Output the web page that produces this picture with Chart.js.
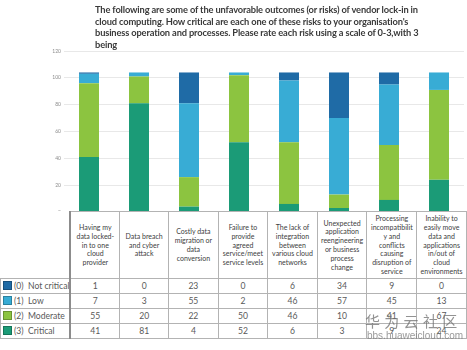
<!DOCTYPE html>
<html>
<head>
<meta charset="utf-8">
<script src="https://cdn.jsdelivr.net/npm/chart.js@4.4.1/dist/chart.umd.min.js"></script>
<style>
  html, body { margin: 0; padding: 0; background: #fff; }
  #wrap { position: relative; width: 467px; height: 350px; overflow: hidden; }
  #title {
    position: absolute; left: 95px; top: 4px; width: 360px;
    font: bold 9.3px Lato, sans-serif; line-height: 11.6px; color: #3a3a3a;
    letter-spacing: -0.15px; white-space: nowrap;
  }
  #chartBox { position: absolute; left: 0; top: 0; width: 467px; height: 218px; }
  #dataTable {
    position: absolute; left: 0; top: 211px; border-collapse: collapse;
    table-layout: fixed; font-family: Lato, sans-serif; color: #595959; background: #fff;
  }
  #dataTable td { padding: 0; text-align: center; border: 1px solid #b3b3b3; }
  #dataTable tr.head td {
    height: 66px; font-size: 7px; line-height: 8.8px; color: #404040; vertical-align: middle;
  }
  #dataTable tr.head td.blank { border: none; border-right: 2px solid #8c8c8c; }
  #dataTable tr.row td { height: 14px; font-size: 8.6px; }
  #dataTable td.legend {
    text-align: left; white-space: nowrap; font-size: 8.4px; border-right: 2px solid #8c8c8c;
    padding-left: 2px; overflow: hidden;
  }
  .sw { display: inline-block; width: 7px; height: 7px; margin-right: 2px; vertical-align: -1px; border: 1px solid rgba(0,0,0,0.25); }
  #wm1 {
    position: absolute; left: 365px; top: 310px; font: 15px "Noto Sans CJK SC", sans-serif;
    letter-spacing: 4.3px; color: rgba(110,110,110,0.75);
  }
  #wm2 {
    position: absolute; left: 367px; top: 330px; font: 10px "Liberation Sans", sans-serif;
    line-height: 12px; color: rgba(120,120,120,0.75);
  }
</style>
</head>
<body>
<div id="wrap">
  <div id="chartBox"><canvas id="chart" width="467" height="218"></canvas></div>
  <div id="title"></div>
  <table id="dataTable"></table>
  <div id="wm1">华为云社区</div>
  <div id="wm2">bbs.huaweicloud.com</div>
</div>
<script>
// data
var titleLines = [
  "The following are some of the unfavorable outcomes (or risks) of vendor lock-in in",
  "cloud computing. How critical are each one of these risks to your organisation's",
  "business operation and processes. Please rate each risk using a scale of 0-3,with 3",
  "being"
];
var categories = [
  ["Having my", "data locked-", "in to one", "cloud", "provider"],
  ["Data breach", "and cyber", "attack"],
  ["Costly data", "migration or", "data", "conversion"],
  ["Failure to", "provide", "agreed", "service/meet", "service levels"],
  ["The lack of", "integration", "between", "various cloud", "networks"],
  ["Unexpected", "application", "reengineering", "or business", "process", "change"],
  ["Processing", "incompatibilit", "y and", "conflicts", "causing", "disruption of", "service"],
  ["Inability to", "easily move", "data and", "applications", "in/out of", "cloud", "environments"]
];
var notCritical = [1, 0, 23, 0, 6, 34, 9, 0];
var low = [7, 3, 55, 2, 46, 57, 45, 13];
var moderate = [55, 20, 22, 50, 46, 10, 41, 67];
var critical = [41, 81, 4, 52, 6, 3, 9, 24];
var yMin = 0, yMax = 120, yStep = 20;

// series as shown in the table (top to bottom)
var series = [
  { label: "(0)  Not critical", data: notCritical, color: "#1f6ba6" },
  { label: "(1)  Low", data: low, color: "#38acd5" },
  { label: "(2)  Moderate", data: moderate, color: "#8cc440" },
  { label: "(3)  Critical", data: critical, color: "#1b9b77" }
];

document.getElementById("title").innerHTML = titleLines.join("<br>");

// stack order: critical at the bottom
var datasets = series.slice().reverse().map(function (s) {
  return {
    label: s.label,
    data: s.data,
    backgroundColor: s.color,
    borderWidth: 0,
    barPercentage: 0.4,
    categoryPercentage: 1.0
  };
});

var ctx = document.getElementById("chart").getContext("2d");
new Chart(ctx, {
  type: "bar",
  data: { labels: categories, datasets: datasets },
  options: {
    responsive: false,
    animation: false,
    layout: { padding: { top: 51, right: 3, bottom: 2, left: 0 } },
    plugins: { legend: { display: false }, tooltip: { enabled: false }, title: { display: false } },
    scales: {
      x: { stacked: true, display: false },
      y: {
        stacked: true,
        min: yMin, max: yMax,
        ticks: { stepSize: yStep, padding: 3, color: "#8c8c8c", font: { size: 5, family: "Lato" } },
        grid: { color: "#e8e8e8", drawTicks: false },
        border: { display: false },
        afterFit: function (scale) { scale.width = 64; }
      }
    }
  }
});

// data table under the chart, same order as the reference
var table = document.getElementById("dataTable");
var html = '<colgroup><col style="width:64px">';
for (var i = 0; i < categories.length; i++) html += '<col style="width:50px">';
html += '</colgroup><tr class="head"><td class="blank"></td>';
categories.forEach(function (c) { html += '<td>' + c.join("<br>") + '</td>'; });
html += '</tr>';
series.forEach(function (s) {
  html += '<tr class="row"><td class="legend"><span class="sw" style="background:' + s.color + '"></span>' + s.label.replace(/ /g, "&nbsp;") + '</td>';
  s.data.forEach(function (v) { html += '<td>' + v + '</td>'; });
  html += '</tr>';
});
table.innerHTML = html;
</script>
</body>
</html>
